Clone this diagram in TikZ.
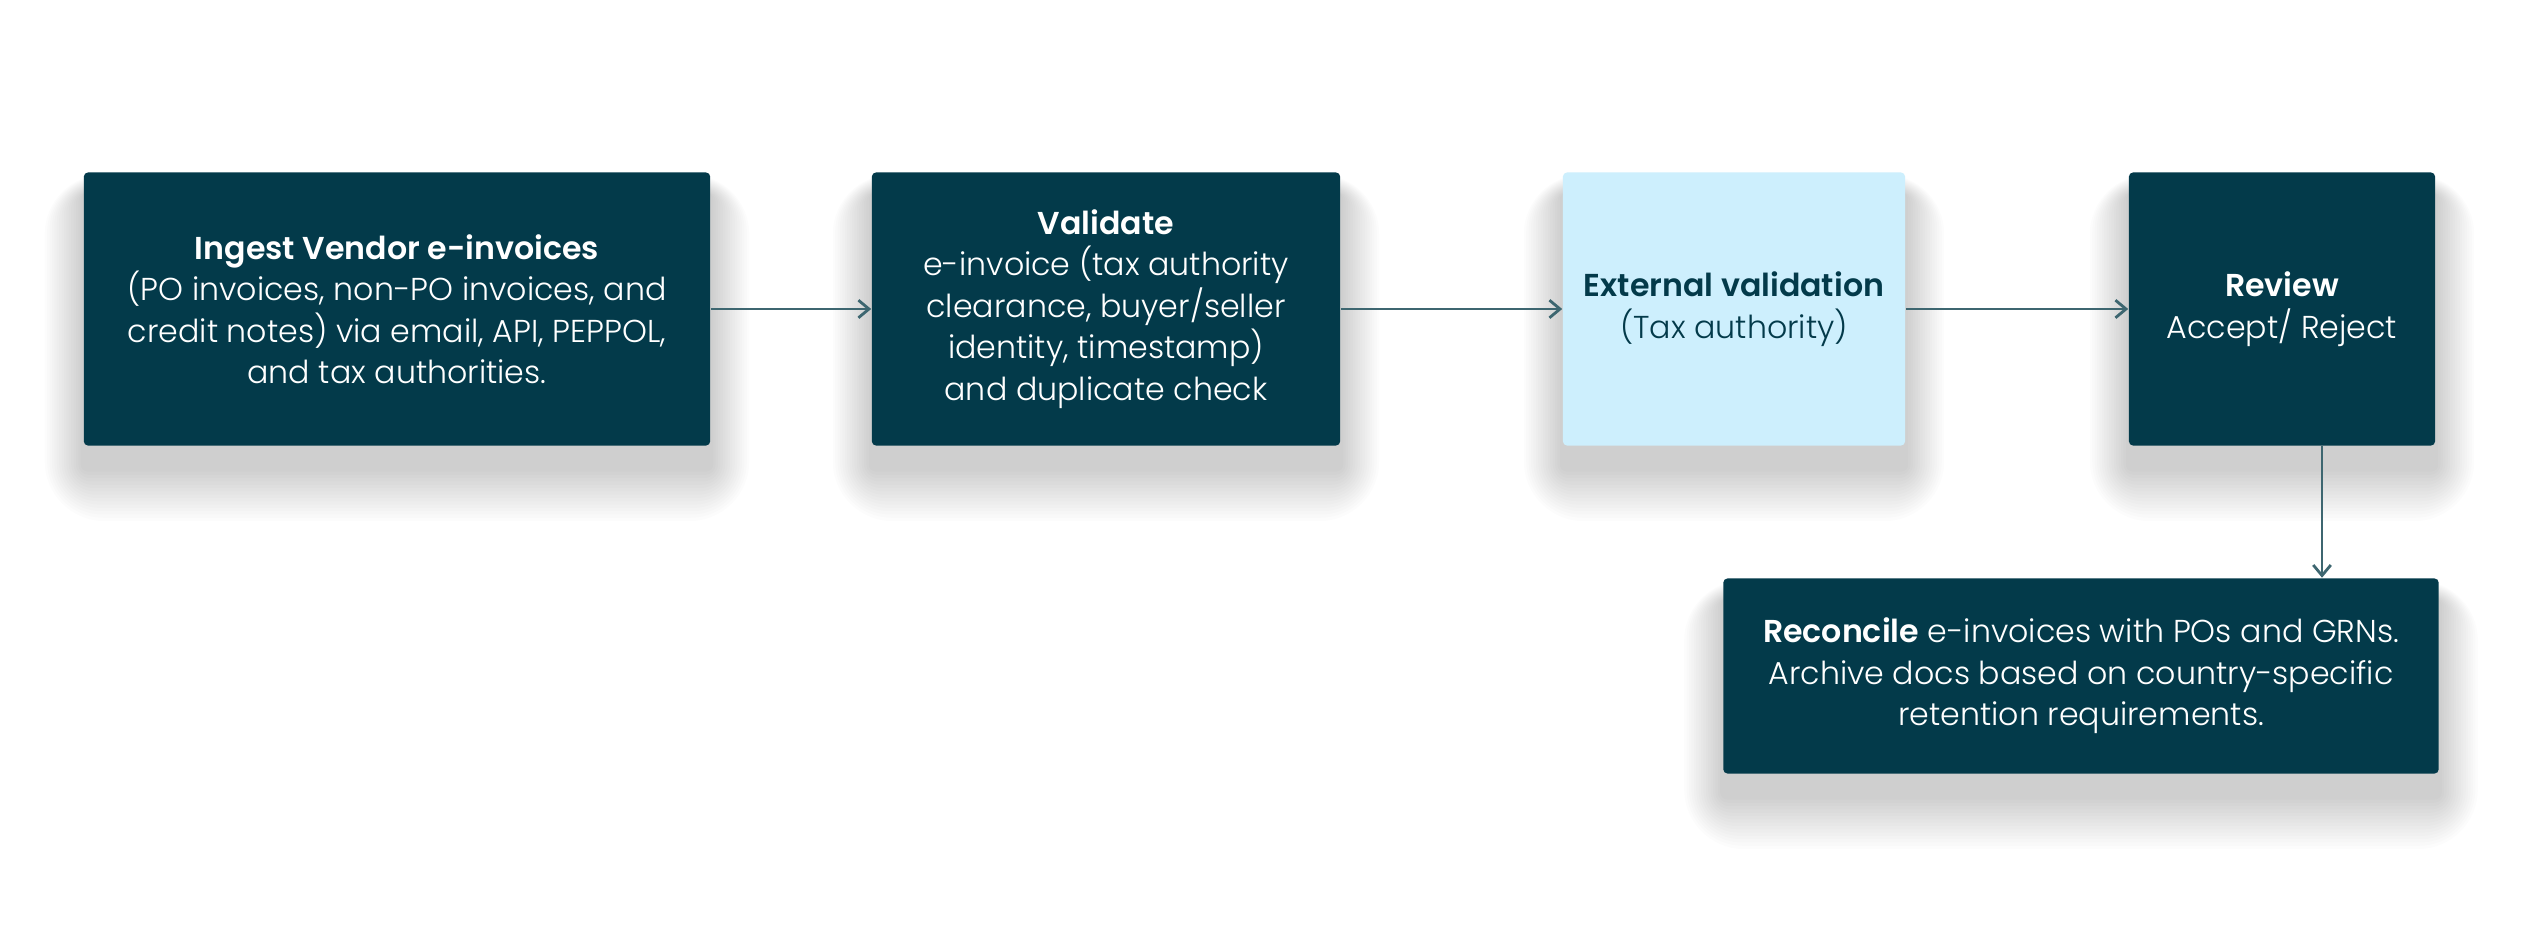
\documentclass[tikz,border=0pt]{standalone}
\usepackage{fontspec}
\setmainfont{Poppins}[UprightFont=* Light, BoldFont=* SemiBold]
\usetikzlibrary{arrows.meta,backgrounds}
\definecolor{dteal}{HTML}{033A4A}
\definecolor{lblue}{HTML}{CDEFFD}
\definecolor{arrc}{HTML}{3D6670}
\tikzset{
  box/.style={fill=dteal, text=white, rounded corners=1.2pt, align=center, inner sep=0pt,
    font=\fontsize{9}{11.8}\selectfont},
  lbox/.style={box, fill=lblue, text=dteal},
  arr/.style={draw=arrc, line width=0.8pt, -{Straight Barb[length=3pt,width=5pt]}},
  shadowlayer/.style={fill=black, fill opacity=0.011}
}
\newcommand\softshadow[1]{%
  \foreach \i in {1,...,16}{%
    \pgfmathsetmacro\e{3*\i}%
    \fill[shadowlayer, rounded corners={\i*1pt+1pt}]
      ([shift={(-0.8*\e,22-0.4*\e)}]#1.north west) rectangle ([shift={(0.8*\e,22+1.1*\e)}]#1.south east);
  }%
}
\begin{document}
\begin{tikzpicture}[x=0.01cm,y=-0.01cm]
\useasboundingbox (0,0) rectangle (2523,948);
\node[box, minimum width=6.26cm, minimum height=2.73cm] (ingest) at (397,309)
  {\textbf{Ingest Vendor e-invoices}\\(PO invoices, non-PO invoices, and\\credit notes) via email, API, PEPPOL,\\and tax authorities.};
\node[box, minimum width=4.68cm, minimum height=2.73cm] (validate) at (1106,309)
  {\textbf{Validate}\\e-invoice (tax authority\\clearance, buyer/seller\\identity, timestamp)\\and duplicate check};
\node[lbox, minimum width=3.42cm, minimum height=2.73cm] (ext) at (1734,309)
  {\textbf{External validation}\\(Tax authority)};
\node[box, minimum width=3.06cm, minimum height=2.73cm] (review) at (2282,309)
  {\textbf{Review}\\Accept/ Reject};
\node[box, minimum width=7.15cm, minimum height=1.95cm] (recon) at (2081,676)
  {\textbf{Reconcile} e-invoices with POs and GRNs.\\Archive docs based on country-specific\\retention requirements.};
\begin{scope}[on background layer]
  \fill[white] (0,0) rectangle (2523,948);
  \softshadow{ingest}
  \softshadow{validate}
  \softshadow{ext}
  \softshadow{review}
  \softshadow{recon}
\end{scope}
\draw[arr] (ingest.east) -- (validate.west);
\draw[arr] (validate.east) -- (ext.west);
\draw[arr] (ext.east) -- (review.west);
\draw[arr] ([xshift=0.4cm]review.south) -- ([xshift=0.4cm]review.south |- recon.north);
\end{tikzpicture}
\end{document}
